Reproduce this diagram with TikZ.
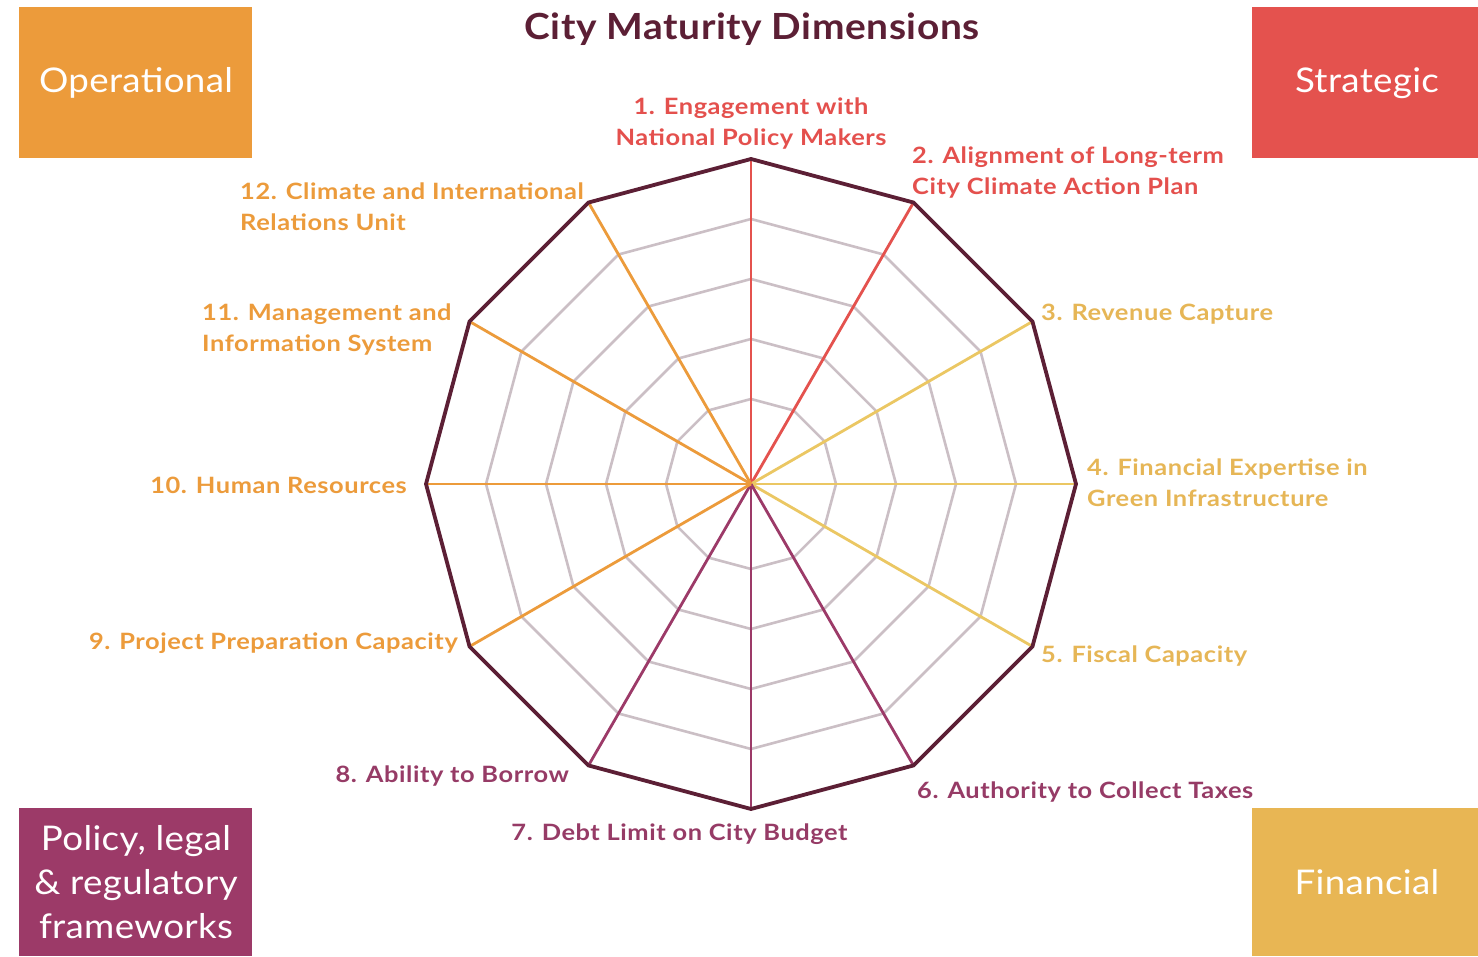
\documentclass[tikz,border=0pt]{standalone}
\usepackage{fontspec}
\setmainfont{Lato}
\newfontfamily\labfont{Lato}[FakeStretch=1.13, LetterSpace=2.5]
\newfontfamily\titlefont{Lato}[FakeStretch=1.08, LetterSpace=1.5]
\newfontfamily\boxfont{Lato}[FakeStretch=1.08, LetterSpace=1]
\usetikzlibrary{calc}
\definecolor{cOrg}{HTML}{EC9B3B}
\definecolor{cRed}{HTML}{E4524E}
\definecolor{cPur}{HTML}{9C3A68}
\definecolor{cGold}{HTML}{E8B654}
\definecolor{cYelLine}{HTML}{EBC763}
\definecolor{cMaroon}{HTML}{5C1F35}
\definecolor{cRing}{HTML}{CBBFC5}
\definecolor{tRed}{HTML}{E4504D}
\definecolor{tGold}{HTML}{E6B656}
\definecolor{tPur}{HTML}{963B66}
\definecolor{tOrg}{HTML}{EC9B3B}
\tikzset{
  ringline/.style={draw=cRing, line width=2.6pt, line join=miter},
  spoke/.style={line width=2.8pt},
  outerline/.style={draw=cMaroon, line width=3.8pt, line join=miter},
  catbox/.style={inner sep=0pt, text=white, font=\boxfont\fontsize{34}{44}\selectfont, align=center},
  dimlabel/.style={inner sep=0pt, font=\labfont\bfseries\fontsize{22.5}{31}\selectfont},
}
\begin{document}
\begin{tikzpicture}[x=1pt,y=1pt]
\fill[white] (0,0) rectangle (1478,956);
\useasboundingbox (0,0) rectangle (1478,956);
% category boxes
\fill[cOrg] (19,798) rectangle (252,949);
\fill[cRed] (1252,798) rectangle (1478,949);
\fill[cPur] (19,0) rectangle (252,148);
\fill[cGold] (1252,0) rectangle (1478,148);
\node[catbox] (op) at (136,873) {Operational};
\node[catbox] (st) at (1367,873) {Strategic};
\node[catbox] (po) at (136,74) {Policy, legal\\\& regulatory\\frameworks};
\node[catbox] (fi) at (1367,74) {Financial};
% title
\node[inner sep=0pt, text=cMaroon, font=\titlefont\bfseries\fontsize{36}{40}\selectfont] (title) at (752,927) {City Maturity Dimensions};
% radar
\coordinate (c) at (751,472);
\foreach \r in {85,145,205,265} {
  \draw[ringline, shift={(751,472)}] (90:\r pt) \foreach \a in {60,30,...,-240} { -- (\a:\r pt) } -- cycle;
}
\foreach \i in {1,...,12} {
  \coordinate (v\i) at ($(c)+({90-30*(\i-1)}:325pt)$);
}
\foreach \i/\col in {1/cRed,2/cRed,3/cYelLine,4/cYelLine,5/cYelLine,6/cPur,7/cPur,8/cPur,9/cOrg,10/cOrg,11/cOrg,12/cOrg} {
  \draw[spoke, draw=\col] (c) -- (v\i);
}
\draw[outerline] (v1) -- (v2) -- (v3) -- (v4) -- (v5) -- (v6) -- (v7) -- (v8) -- (v9) -- (v10) -- (v11) -- (v12) -- cycle;
% labels
\node[dimlabel, text=tRed, align=center] (l1) at (751,832) {1. Engagement with\\National Policy Makers};
\node[dimlabel, text=tRed, align=left, anchor=west] (l2) at (912,783) {2. Alignment of Long-term\\City Climate Action Plan};
\node[dimlabel, text=tGold, anchor=west] (l3) at (1041,642) {3. Revenue Capture};
\node[dimlabel, text=tGold, align=left, anchor=west] (l4) at (1087,473) {4. Financial Expertise in\\Green Infrastructure};
\node[dimlabel, text=tGold, anchor=west] (l5) at (1041,300) {5. Fiscal Capacity};
\node[dimlabel, text=tPur, anchor=west] (l6) at (917,164) {6. Authority to Collect Taxes};
\node[dimlabel, text=tPur] (l7) at (679.5,122) {7. Debt Limit on City Budget};
\node[dimlabel, text=tPur, anchor=east] (l8) at (569,180) {8. Ability to Borrow};
\node[dimlabel, text=tOrg, anchor=east] (l9) at (458,313) {9. Project Preparation Capacity};
\node[dimlabel, text=tOrg, anchor=east] (l10) at (407,471) {10. Human Resources};
\node[dimlabel, text=tOrg, align=left, anchor=west] (l11) at (202,626) {11. Management and\\Information System};
\node[dimlabel, text=tOrg, align=left, anchor=west] (l12) at (240,749) {12. Climate and International\\Relations Unit};
\end{tikzpicture}
\end{document}
